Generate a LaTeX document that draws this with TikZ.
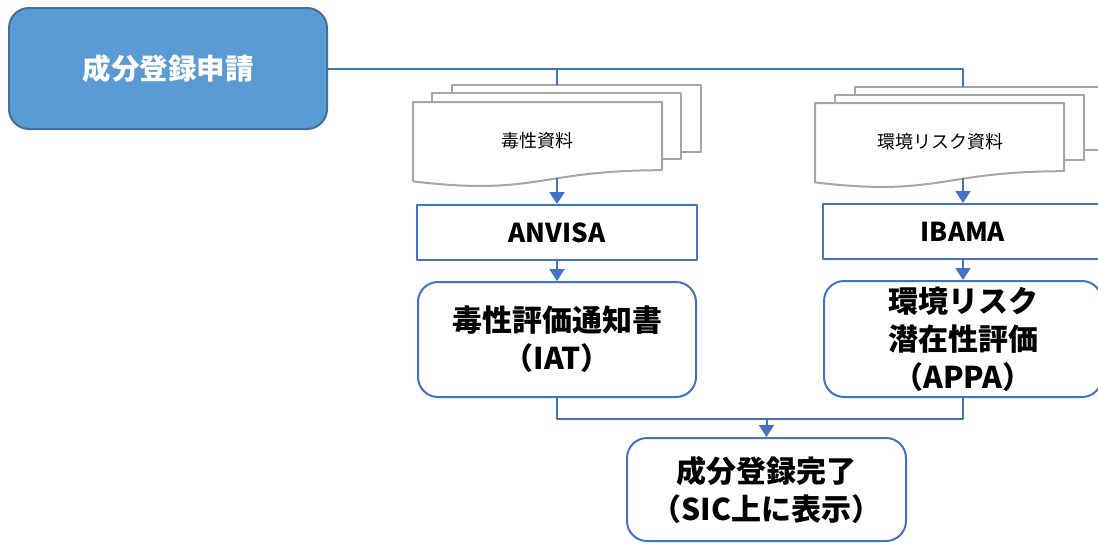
\documentclass[tikz,border=0pt]{standalone}
\usepackage{fontspec}
\setmainfont{Noto Sans CJK JP}
\usetikzlibrary{arrows.meta}
\definecolor{lblue}{HTML}{4472C4}
\definecolor{topfill}{HTML}{5B9BD5}
\definecolor{topdraw}{HTML}{41719C}
\definecolor{docgray}{HTML}{A6A6A6}
\begin{document}
\begin{tikzpicture}[x=1pt,y=-1pt,line join=round,
  conn/.style={draw=lblue,line width=2pt},
  arr/.style={conn,-{Triangle[width=15pt,length=12pt]}},
  topbox/.style={draw=topdraw,fill=topfill,line width=2pt,rounded corners=20pt,text=white,
    font=\bfseries\fontsize{28.5}{32}\selectfont,inner sep=0pt},
  orgbox/.style={draw=lblue,fill=white,line width=2pt,inner sep=0pt,
    font=\bfseries\fontsize{26}{30}\selectfont,minimum width=280pt,minimum height=55pt},
  resbox/.style={draw=lblue,fill=white,line width=2pt,rounded corners=20pt,inner sep=0pt,align=center,
    font=\bfseries\fontsize{30}{38}\selectfont},
  sheet/.style={draw=docgray,fill=white,line width=2pt},
  doctext/.style={font=\fontsize{18}{20}\selectfont,inner sep=0pt}]
\useasboundingbox (0,0) rectangle (1098,544);
\clip (0,0) rectangle (1098,544);

% boxes
\node[topbox,minimum width=318pt,minimum height=121pt] (req) at (168,68.5) {成分登録申請};
\node[orgbox] (anvisa) at (557,232.5) {ANVISA};
\node[orgbox] (ibama) at (963,231.5) {IBAMA};
\node[resbox,minimum width=278pt,minimum height=115pt] (iat) at (557,339.5) {毒性評価通知書\\（IAT）};
\node[resbox,minimum width=278pt,minimum height=116pt] (appa) at (963,339) {環境リスク\\潜在性評価\\（APPA）};
\node[resbox,minimum width=279pt,minimum height=103pt] (fin) at (766.5,489.5) {成分登録完了\\（SIC上に表示）};

% document stack (left)
\path[sheet] (452,85) rectangle (701,152);
\path[sheet] (432,93) rectangle (681,159);
\path[sheet] (413,102) -- (662,102) -- (662,170.2)
  .. controls (537.5,170.2) and (537.5,196.2) .. (413,181.4) -- cycle;
\node[doctext] (docA) at (537,141) {毒性資料};
\coordinate (docAtop) at (557,85);
\coordinate (docAbot) at (557,178);

% document stack (right)
\path[sheet] (855,87) rectangle (1104,150);
\path[sheet] (835,95) rectangle (1084,160);
\path[sheet] (815,103) -- (1064,103) -- (1064,171.2)
  .. controls (939.5,171.2) and (939.5,197.2) .. (815,182.4) -- cycle;
\node[doctext] (docB) at (940,142) {環境リスク資料};
\coordinate (docBtop) at (963,87);
\coordinate (docBbot) at (963,178);

% connectors
\draw[conn] (req.east) -- (docBtop |- req.east) -- (docBtop);
\draw[conn] (docAtop |- req.east) -- (docAtop);
\draw[arr] (docAbot) -- (anvisa.north);
\draw[arr] (docBbot) -- (ibama.north);
\draw[arr] (anvisa.south) -- (iat.north);
\draw[arr] (ibama.south) -- (appa.north);
\coordinate (merge) at (766.5,419);
\draw[conn] (iat.south) -- (iat.south |- merge) -- (appa.south |- merge) -- (appa.south);
\draw[arr] (merge) -- (fin.north);
\end{tikzpicture}
\end{document}
